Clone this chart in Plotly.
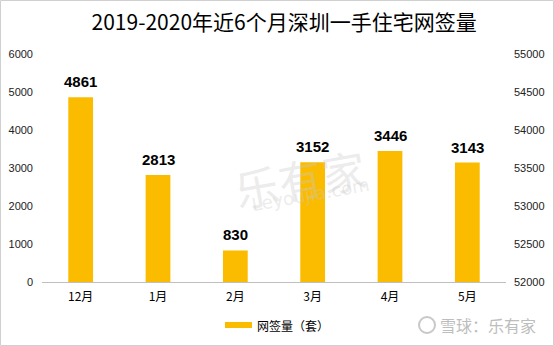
import plotly.graph_objects as go

months = ["12月", "1月", "2月", "3月", "4月", "5月"]
sales = [4861, 2813, 830, 3152, 3446, 3143]
left_ticks = [0, 1000, 2000, 3000, 4000, 5000, 6000]
right_ticks = [52000, 52500, 53000, 53500, 54000, 54500, 55000]
legend_label = "网签量（套）"

font_cjk = "Noto Sans CJK SC, Liberation Sans, sans-serif"

fig = go.Figure()
fig.add_trace(go.Bar(
    x=months, y=sales, name=legend_label,
    marker=dict(color="#FBBC00", line=dict(width=0)),
    width=0.32, showlegend=False,
))
fig.add_trace(go.Scatter(
    x=months, y=[None]*len(months), yaxis="y2", showlegend=False,
    hoverinfo="skip", mode="lines",
))

L, R, T, B = 42, 48, 54, 64
W, H = 554, 346
pw, ph = W - L - R, H - T - B
def px(x): return (x - L) / pw
def py(y): return (H - B - y) / ph

annotations = [
    dict(text=f"<b>{v}</b>", x=m, y=v, xref="x", yref="y", yanchor="bottom",
         yshift=5, showarrow=False,
         font=dict(family="Liberation Sans, Arial", size=15, color="#000000"))
    for m, v in zip(months, sales)
]
annotations += [
    dict(text=legend_label, xref="paper", yref="paper", x=px(255), y=py(325),
         xanchor="left", yanchor="middle", showarrow=False,
         font=dict(family=font_cjk, size=12, color="#000000")),
    dict(text="乐有家", xref="paper", yref="paper", x=px(300), y=py(178),
         showarrow=False, font=dict(family=font_cjk, size=44, color="rgba(200,200,200,0.35)"),
         textangle=-10),
    dict(text="Leyoujia.com", xref="paper", yref="paper", x=px(310), y=py(217),
         showarrow=False, font=dict(family="DejaVu Sans", size=18, color="rgba(200,200,200,0.35)"),
         textangle=-10),
    dict(text="雪球：乐有家", xref="paper", yref="paper", x=px(538), y=py(325),
         xanchor="right", yanchor="middle", showarrow=False,
         font=dict(family=font_cjk, size=16, color="#BDBDBD")),
]

fig.update_layout(
    width=W, height=H,
    margin=dict(l=L, r=R, t=T, b=B, autoexpand=False),
    paper_bgcolor="white", plot_bgcolor="white",
    title=dict(text="2019-2020年近6个月深圳一手住宅网签量", x=px(280), xanchor="center",
               y=1 - 23/H, yanchor="middle",
               font=dict(family=font_cjk, size=21, color="#000000")),
    font=dict(family=font_cjk, size=11, color="#222222"),
    xaxis=dict(showline=True, linecolor="#BFBFBF", linewidth=1, ticks="",
               ticklabelstandoff=4,
               tickfont=dict(size=12, color="#000000"), showgrid=False),
    yaxis=dict(range=[0, 6000], tickvals=left_ticks, showgrid=False, zeroline=False,
               showline=False, ticks="", ticklabelstandoff=8,
               tickfont=dict(family="Liberation Sans, Arial", size=11, color="#222222")),
    yaxis2=dict(range=[52000, 55000], tickvals=right_ticks,
                ticktext=[str(v) for v in right_ticks], overlaying="y", side="right",
                showgrid=False, zeroline=False, showline=False, ticks="", ticklabelstandoff=7,
                tickfont=dict(family="Liberation Sans, Arial", size=11, color="#222222")),
    showlegend=False,
    shapes=[dict(type="rect", xref="paper", yref="paper",
                 x0=px(0.5), x1=px(553.5), y0=py(0.5), y1=py(345.5),
                 line=dict(color="#D0D0D0", width=1), layer="below"),
            dict(type="rect", xref="paper", yref="paper",
                 x0=px(225), x1=px(252), y0=py(322), y1=py(328),
                 fillcolor="#FBBC00", line=dict(width=0)),
            dict(type="circle", xref="paper", yref="paper",
                 x0=px(419), x1=px(435), y0=py(317), y1=py(333),
                 line=dict(color="#C8C8C8", width=2))],
    annotations=annotations,
)

fig.write_html("out.html")
